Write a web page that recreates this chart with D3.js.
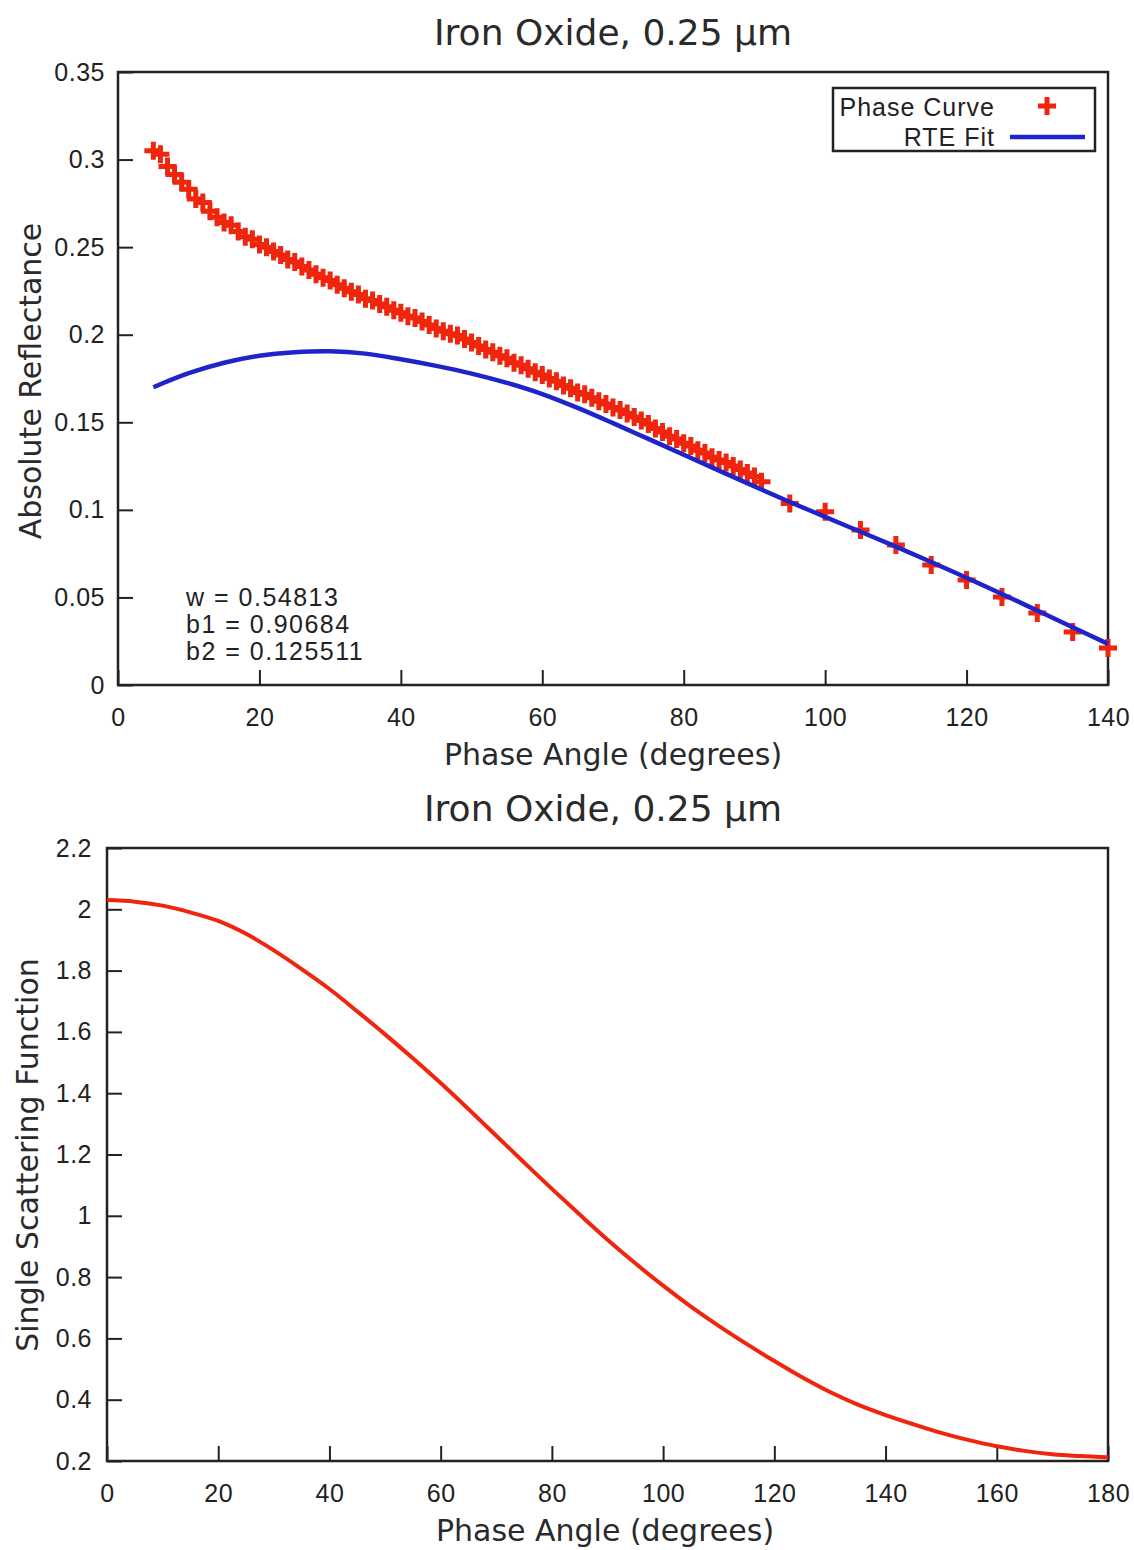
<!DOCTYPE html>
<html>
<head>
<meta charset="utf-8">
<script src="https://cdn.jsdelivr.net/npm/d3@7"></script>
<style>
  html, body { margin: 0; padding: 0; background: #fff; }
  svg { display: block; }
  .title, .axis-label { font-family: "DejaVu Sans", sans-serif; fill: #2a2a2a; }
  .tick text, .legend text, .fit-params text {
    font-family: "Liberation Sans", Arial, sans-serif;
    fill: #222;
  }
</style>
</head>
<body>
<svg id="chart" width="1134" height="1550"></svg>
<script>
// ---- Data -------------------------------------------------------------

const chartTitle = "Iron Oxide, 0.25 µm";

// Measured phase curve: [phase angle (deg), absolute reflectance]
const phaseCurveDense = [
  [5,0.3050],[6,0.3030],[7,0.2960],[8,0.2915],[9,0.2870],[10,0.2830],
  [11,0.2775],[12,0.2755],[13,0.2705],[14,0.2670],[15,0.2640],[16,0.2625],
  [17,0.2590],[18,0.2560],[19,0.2545],[20,0.2515],[21,0.2500],[22,0.2475],
  [23,0.2455],[24,0.2430],[25,0.2415],[26,0.2390],[27,0.2370],[28,0.2345],
  [29,0.2325],[30,0.2310],[31,0.2285],[32,0.2265],[33,0.2245],[34,0.2230],
  [35,0.2205],[36,0.2195],[37,0.2175],[38,0.2160],[39,0.2140],[40,0.2125],
  [41,0.2105],[42,0.2095],[43,0.2075],[44,0.2055],[45,0.2035],[46,0.2020],
  [47,0.2005],[48,0.1995],[49,0.1975],[50,0.1955],[51,0.1935],[52,0.1915],
  [53,0.1900],[54,0.1880],[55,0.1865],[56,0.1840],[57,0.1825],[58,0.1805],
  [59,0.1785],[60,0.1770],[61,0.1750],[62,0.1735],[63,0.1710],[64,0.1695],
  [65,0.1670],[66,0.1660],[67,0.1640],[68,0.1620],[69,0.1605],[70,0.1585],
  [71,0.1570],[72,0.1550],[73,0.1530],[74,0.1510],[75,0.1490],[76,0.1465],
  [77,0.1445],[78,0.1420],[79,0.1405],[80,0.1380],[81,0.1365],[82,0.1340],
  [83,0.1325],[84,0.1300],[85,0.1285],[86,0.1270],[87,0.1250],[88,0.1230],
  [89,0.1210],[90,0.1190],[91,0.1160]
];
const phaseCurveSparse = [
  [95,0.1037],[100,0.0989],[105,0.0885],[110,0.0799],[115,0.0685],
  [120,0.0599],[125,0.0502],[130,0.0411],[135,0.0303],[140,0.0211]
];

// Radiative-transfer fit: [phase angle (deg), absolute reflectance]
const rteFit = [
  [5,0.1700],[10,0.1780],[15,0.1840],[20,0.1880],[25,0.1900],[30,0.1906],
  [35,0.1892],[40,0.1860],[45,0.1822],[50,0.1778],[55,0.1725],[60,0.1661],
  [65,0.1582],[70,0.1495],[75,0.1405],[80,0.1315],[85,0.1224],[90,0.1134],
  [95,0.1045],[100,0.0960],[105,0.0875],[110,0.0790],[115,0.0702],[120,0.0612],
  [125,0.0520],[130,0.0425],[135,0.0330],[140,0.0235]
];

// Fitted parameters
const fitParams = ["w = 0.54813", "b1 = 0.90684", "b2 = 0.125511"];

// Single scattering function: [phase angle (deg), value]
const scatteringFn = [
  [0,2.030],[5,2.025],[10,2.012],[15,1.990],[20,1.962],[25,1.920],[30,1.866],
  [35,1.805],[40,1.740],[45,1.667],[50,1.592],[55,1.514],[60,1.433],[65,1.348],
  [70,1.261],[75,1.174],[80,1.088],[85,1.004],[90,0.922],[95,0.845],[100,0.772],
  [105,0.704],[110,0.641],[115,0.582],[120,0.526],[125,0.473],[130,0.425],
  [135,0.384],[140,0.350],[145,0.320],[150,0.292],[155,0.268],[160,0.248],
  [165,0.233],[170,0.222],[175,0.216],[180,0.212]
];

// Tick values and labels
const topXTicks = [0, 20, 40, 60, 80, 100, 120, 140];
const topXLabels = ["0", "20", "40", "60", "80", "100", "120", "140"];
const topYTicks = [0, 0.05, 0.1, 0.15, 0.2, 0.25, 0.3, 0.35];
const topYLabels = ["0", "0.05", "0.1", "0.15", "0.2", "0.25", "0.3", "0.35"];
const botXTicks = [0, 20, 40, 60, 80, 100, 120, 140, 160, 180];
const botXLabels = ["0", "20", "40", "60", "80", "100", "120", "140", "160", "180"];
const botYTicks = [0.2, 0.4, 0.6, 0.8, 1, 1.2, 1.4, 1.6, 1.8, 2, 2.2];
const botYLabels = ["0.2", "0.4", "0.6", "0.8", "1", "1.2", "1.4", "1.6", "1.8", "2", "2.2"];

// ---- Styles -------------------------------------------------------------

const RED = "#f0250d";
const BLUE = "#1d24c9";
const FRAME = "#222";
const TICK_FONT = 25;
const TICK_SPACING = "0.5px";

const svg = d3.select("#chart");
svg.append("rect").attr("width", 1134).attr("height", 1550).attr("fill", "#fff");

function drawAxes(g, x, y, xt, xl, yt, yl, xPad, yPad) {
  const ax = d3.axisBottom(x).tickValues(xt)
    .tickFormat((d, i) => xl[i]).tickSize(-15).tickPadding(xPad);
  const ay = d3.axisLeft(y).tickValues(yt)
    .tickFormat((d, i) => yl[i]).tickSize(-15).tickPadding(yPad);
  const [x0, x1] = x.range();
  const [y0, y1] = y.range();
  const gx = g.append("g").attr("transform", `translate(0,${y0})`).call(ax);
  const gy = g.append("g").attr("transform", `translate(${x0},0)`).call(ay);
  [gx, gy].forEach(a => {
    a.select(".domain").remove();
    a.selectAll(".tick line").attr("stroke", FRAME).attr("stroke-width", 2);
    a.selectAll(".tick text")
      .attr("font-size", TICK_FONT)
      .attr("letter-spacing", TICK_SPACING)
      .attr("fill", "#222");
  });
  // plot frame
  g.append("rect")
    .attr("x", x0).attr("y", y1)
    .attr("width", x1 - x0).attr("height", y0 - y1)
    .attr("fill", "none").attr("stroke", FRAME).attr("stroke-width", 2.5);
}

const crossPath = "M-9,0H9M0,-9V9";

// ---- Top panel: phase curve and fit ----------------------------------------

const topPanel = svg.append("g");
const xTop = d3.scaleLinear().domain([0, 140]).range([118, 1108]);
const yTop = d3.scaleLinear().domain([0, 0.35]).range([685, 72]);

topPanel.append("text").attr("class", "title")
  .attr("x", 613).attr("y", 45).attr("text-anchor", "middle")
  .attr("font-size", 36).text(chartTitle);

drawAxes(topPanel, xTop, yTop, topXTicks, topXLabels, topYTicks, topYLabels, 23, 13);

topPanel.append("text").attr("class", "axis-label")
  .attr("x", 613).attr("y", 765).attr("text-anchor", "middle")
  .attr("font-size", 30).text("Phase Angle (degrees)");
topPanel.append("text").attr("class", "axis-label")
  .attr("transform", "translate(41,381) rotate(-90)")
  .attr("text-anchor", "middle")
  .attr("font-size", 30).text("Absolute Reflectance");

topPanel.append("g").selectAll("path")
  .data(phaseCurveDense.concat(phaseCurveSparse))
  .join("path")
  .attr("transform", d => `translate(${xTop(d[0])},${yTop(d[1])})`)
  .attr("d", crossPath)
  .attr("stroke", RED).attr("stroke-width", 5).attr("fill", "none");

topPanel.append("path")
  .datum(rteFit)
  .attr("d", d3.line().x(d => xTop(d[0])).y(d => yTop(d[1])).curve(d3.curveCatmullRom))
  .attr("fill", "none").attr("stroke", BLUE).attr("stroke-width", 4.5);

// fitted parameter block
const fp = topPanel.append("g").attr("class", "fit-params");
fp.selectAll("text").data(fitParams).join("text")
  .attr("x", 186).attr("y", (d, i) => 606 + i * 27)
  .attr("font-size", 25).attr("letter-spacing", "1.5px")
  .text(d => d);

// legend
const lg = topPanel.append("g").attr("class", "legend");
lg.append("rect").attr("x", 833).attr("y", 88).attr("width", 262).attr("height", 63)
  .attr("fill", "#fff").attr("stroke", FRAME).attr("stroke-width", 2.5);
lg.append("text").attr("x", 995).attr("y", 116).attr("text-anchor", "end")
  .attr("font-size", 25).attr("letter-spacing", "1px").text("Phase Curve");
lg.append("text").attr("x", 995).attr("y", 146).attr("text-anchor", "end")
  .attr("font-size", 25).attr("letter-spacing", "1px").text("RTE Fit");
lg.append("path").attr("transform", "translate(1047,106)")
  .attr("d", crossPath).attr("stroke", RED).attr("stroke-width", 5).attr("fill", "none");
lg.append("line").attr("x1", 1010).attr("x2", 1085).attr("y1", 137).attr("y2", 137)
  .attr("stroke", BLUE).attr("stroke-width", 4.5);

// ---- Bottom panel: single scattering function -------------------------------

const botPanel = svg.append("g");
const xBot = d3.scaleLinear().domain([0, 180]).range([107, 1108]);
const yBot = d3.scaleLinear().domain([0.2, 2.2]).range([1461, 848]);

botPanel.append("text").attr("class", "title")
  .attr("x", 603).attr("y", 821).attr("text-anchor", "middle")
  .attr("font-size", 36).text(chartTitle);

drawAxes(botPanel, xBot, yBot, botXTicks, botXLabels, botYTicks, botYLabels, 23, 15);

botPanel.append("text").attr("class", "axis-label")
  .attr("x", 605).attr("y", 1541).attr("text-anchor", "middle")
  .attr("font-size", 30).text("Phase Angle (degrees)");
botPanel.append("text").attr("class", "axis-label")
  .attr("transform", "translate(38,1155) rotate(-90)")
  .attr("text-anchor", "middle")
  .attr("font-size", 30).text("Single Scattering Function");

botPanel.append("path")
  .datum(scatteringFn)
  .attr("d", d3.line().x(d => xBot(d[0])).y(d => yBot(d[1])).curve(d3.curveCatmullRom))
  .attr("fill", "none").attr("stroke", RED).attr("stroke-width", 4);
</script>
</body>
</html>
